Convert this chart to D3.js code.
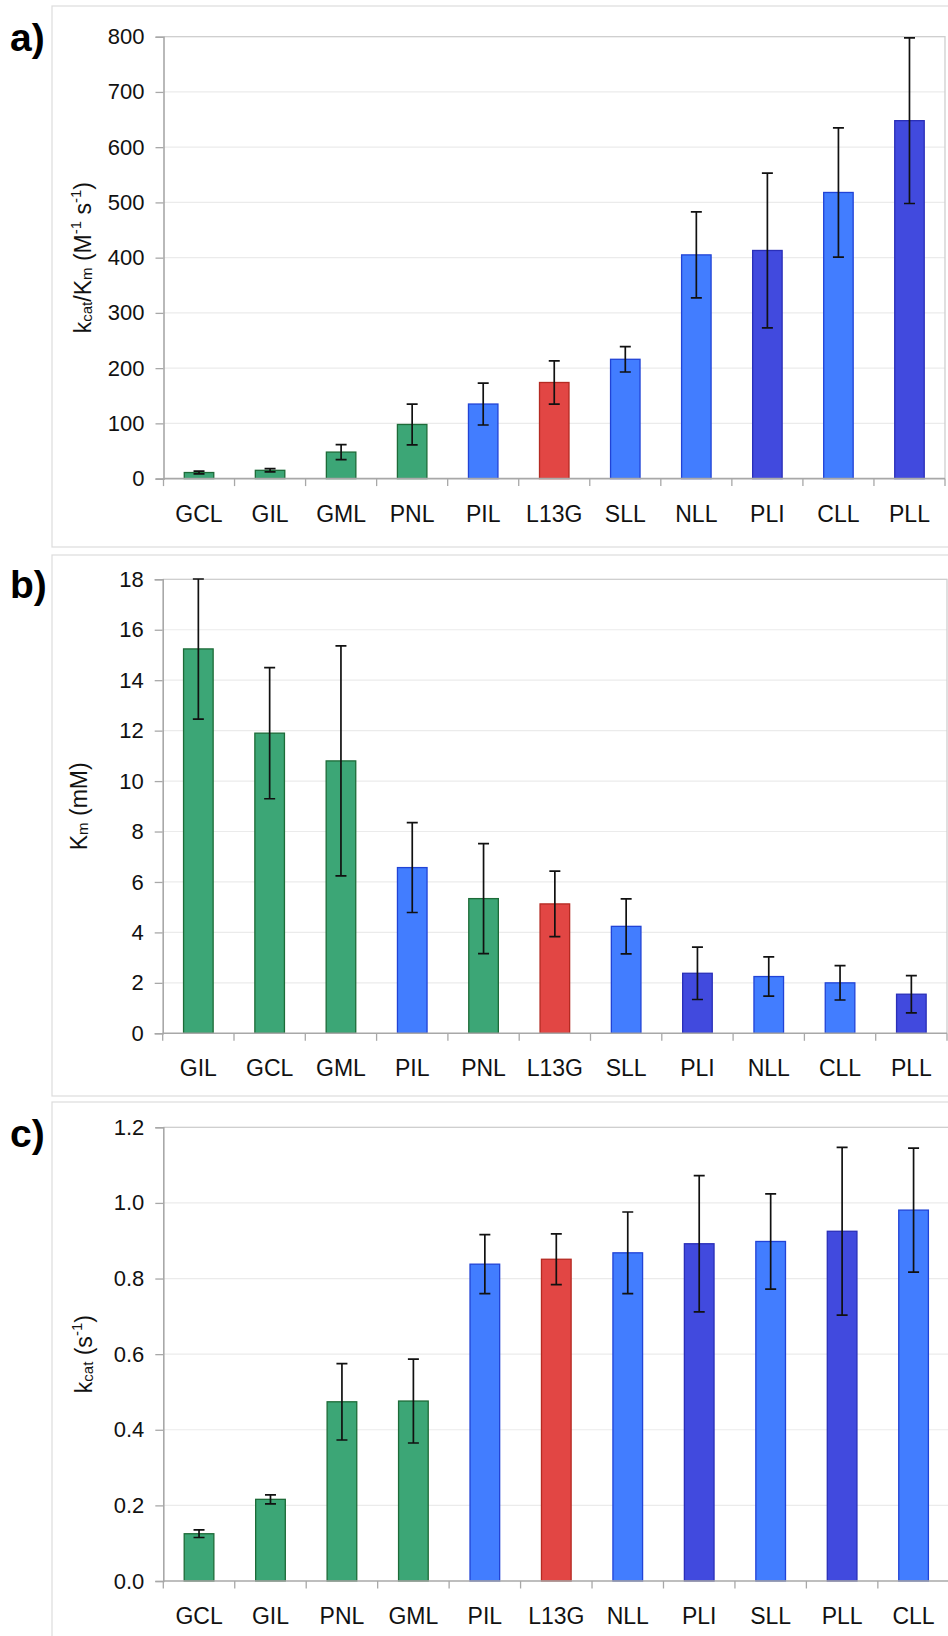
<!DOCTYPE html>
<html>
<head>
<meta charset="utf-8">
<script src="https://cdn.jsdelivr.net/npm/d3@7"></script>
<style>
  html, body { margin: 0; padding: 0; background: #fff; }
  svg { display: block; font-family: "Liberation Sans", Arial, sans-serif; }
</style>
</head>
<body>
<svg id="chart" width="948" height="1636"></svg>
<script>
// ---- Panel a: catalytic efficiency kcat/Km (M^-1 s^-1) ----
const effCategories = ["GCL", "GIL", "GML", "PNL", "PIL", "L13G", "SLL", "NLL", "PLI", "CLL", "PLL"];
const effValues     = [11, 15, 48, 98, 135, 174, 216, 405, 413, 518, 648];
const effErrors     = [2.5, 3, 13.5, 37, 38, 39, 23, 78, 140, 117, 150];
const effTicks      = [0, 100, 200, 300, 400, 500, 600, 700, 800];

// ---- Panel b: Michaelis constant Km (mM) ----
const kmCategories = ["GIL", "GCL", "GML", "PIL", "PNL", "L13G", "SLL", "PLI", "NLL", "CLL", "PLL"];
const kmValues     = [15.24, 11.9, 10.8, 6.57, 5.34, 5.13, 4.24, 2.38, 2.25, 2.0, 1.55];
const kmErrors     = [2.78, 2.6, 4.56, 1.78, 2.18, 1.3, 1.09, 1.04, 0.78, 0.68, 0.74];
const kmTicks      = [0, 2, 4, 6, 8, 10, 12, 14, 16, 18];

// ---- Panel c: turnover number kcat (s^-1) ----
const kcatCategories = ["GCL", "GIL", "PNL", "GML", "PIL", "L13G", "NLL", "PLI", "SLL", "PLL", "CLL"];
const kcatValues     = [0.125, 0.216, 0.474, 0.476, 0.838, 0.851, 0.868, 0.892, 0.898, 0.925, 0.981];
const kcatErrors     = [0.010, 0.012, 0.101, 0.111, 0.078, 0.067, 0.108, 0.180, 0.126, 0.222, 0.164];
const kcatTicks      = [0, 0.2, 0.4, 0.6, 0.8, 1.0, 1.2];

// Variant groups -> fill / outline colours
const groupOf = {
  GCL: "green", GIL: "green", GML: "green", PNL: "green",
  L13G: "red",
  PIL: "light", SLL: "light", NLL: "light", CLL: "light",
  PLI: "dark", PLL: "dark"
};
const fills   = { green: "#3ca676", red: "#e24644", light: "#427dff", dark: "#414ade" };
const strokes = { green: "#1d6b38", red: "#b52a22", light: "#2143d6", dark: "#2a2fb8" };

const svg = d3.select("#chart");
const TICK_FONT = 22;
const CAT_FONT = 23;

const panels = [
  { label: "a)", labelY: 51, frame: [6, 547], plot: { x0: 163.5, x1: 945, y0: 36.7, y1: 478.6 },
    cats: effCategories, vals: effValues, errs: effErrors, ticks: effTicks, max: 800,
    fmt: d3.format("d"), titleX: 83,
    title: [["k", 0], ["cat", -1], ["/K", 0], ["m", -1], [" (M", 0], ["-1", 1], [" s", 0], ["-1", 1], [")", 0]] },
  { label: "b)", labelY: 598, frame: [555, 1096], plot: { x0: 162.7, x1: 947, y0: 579.3, y1: 1033.3 },
    cats: kmCategories, vals: kmValues, errs: kmErrors, ticks: kmTicks, max: 18,
    fmt: d3.format("d"), titleX: 79,
    title: [["K", 0], ["m", -1], [" (mM)", 0]] },
  { label: "c)", labelY: 1147, frame: [1102, 1660], plot: { x0: 163.3, x1: 949.3, y0: 1127.3, y1: 1581 },
    cats: kcatCategories, vals: kcatValues, errs: kcatErrors, ticks: kcatTicks, max: 1.2,
    fmt: d3.format(".1f"), titleX: 84,
    title: [["k", 0], ["cat", -1], [" (s", 0], ["-1", 1], [")", 0]] }
];

panels.forEach(p => {
  const g = svg.append("g");
  const { x0, x1, y0, y1 } = p.plot;

  // panel frame
  g.append("rect")
    .attr("x", 52).attr("y", p.frame[0])
    .attr("width", 960).attr("height", p.frame[1] - p.frame[0])
    .attr("fill", "none").attr("stroke", "#dcdcdc").attr("stroke-width", 1.2);

  // panel letter
  g.append("text")
    .attr("x", 10).attr("y", p.labelY)
    .attr("font-size", 39).attr("font-weight", "bold").attr("fill", "#000")
    .text(p.label);

  const x = d3.scaleBand().domain(p.cats).range([x0, x1])
    .paddingInner(0.585).paddingOuter(0.2925);
  const y = d3.scaleLinear().domain([0, p.max]).range([y1, y0]);

  // gridlines
  g.append("g").selectAll("line").data(p.ticks.slice(1)).join("line")
    .attr("x1", x0).attr("x2", x1)
    .attr("y1", d => y(d)).attr("y2", d => y(d))
    .attr("stroke", "#ebebeb").attr("stroke-width", 1.2);

  // plot area top / right border
  g.append("path")
    .attr("d", `M${x0},${y0}H${x1}V${y1}`)
    .attr("fill", "none").attr("stroke", "#cfcfcf").attr("stroke-width", 1.3);

  // bars
  g.append("g").selectAll("rect").data(p.cats).join("rect")
    .attr("x", d => x(d))
    .attr("y", (d, i) => y(p.vals[i]))
    .attr("width", x.bandwidth())
    .attr("height", (d, i) => y(0) - y(p.vals[i]))
    .attr("fill", d => fills[groupOf[d]])
    .attr("stroke", d => strokes[groupOf[d]])
    .attr("stroke-width", 1.3);

  // error bars (clipped to the plot area)
  const clipId = "clip-" + p.label[0];
  g.append("clipPath").attr("id", clipId)
    .append("rect").attr("x", x0).attr("y", y0 - 1).attr("width", x1 - x0).attr("height", y1 - y0 + 1);
  const eg = g.append("g").attr("clip-path", `url(#${clipId})`)
    .attr("stroke", "#111").attr("stroke-width", 1.7).attr("fill", "none");
  p.cats.forEach((c, i) => {
    const cx = x(c) + x.bandwidth() / 2;
    const hi = y(p.vals[i] + p.errs[i]);
    const lo = y(p.vals[i] - p.errs[i]);
    eg.append("path")
      .attr("d", `M${cx},${hi}V${lo}M${cx - 5.5},${hi}H${cx + 5.5}M${cx - 5.5},${lo}H${cx + 5.5}`);
  });

  // y axis
  const yAxis = d3.axisLeft(y).tickValues(p.ticks).tickFormat(p.fmt).tickSize(8).tickPadding(11);
  const ya = g.append("g").attr("transform", `translate(${x0},0)`).call(yAxis);
  ya.select(".domain").attr("stroke", "#a8a8a8").attr("stroke-width", 1.6);
  ya.selectAll(".tick line").attr("stroke", "#a8a8a8").attr("stroke-width", 1.3);
  ya.selectAll(".tick text").attr("font-size", TICK_FONT).attr("fill", "#111")
    .attr("font-family", "Liberation Sans, Arial, sans-serif");

  // x axis: baseline, boundary ticks, category labels
  const step = x.step();
  g.append("line").attr("x1", x0).attr("x2", x1).attr("y1", y1).attr("y2", y1)
    .attr("stroke", "#a8a8a8").attr("stroke-width", 1.6);
  g.append("g").selectAll("line").data(d3.range(p.cats.length + 1)).join("line")
    .attr("x1", i => x0 + i * step).attr("x2", i => x0 + i * step)
    .attr("y1", y1).attr("y2", y1 + 7.5)
    .attr("stroke", "#a8a8a8").attr("stroke-width", 1.3);
  g.append("g").selectAll("text").data(p.cats).join("text")
    .attr("x", d => x(d) + x.bandwidth() / 2)
    .attr("y", y1 + 43)
    .attr("text-anchor", "middle")
    .attr("font-size", CAT_FONT).attr("fill", "#111")
    .text(d => d);

  // rotated y title with sub/superscripts
  const cy = (y0 + y1) / 2;
  const t = g.append("text")
    .attr("transform", `translate(${p.titleX},${cy}) rotate(-90)`)
    .attr("text-anchor", "middle")
    .attr("dominant-baseline", "central")
    .attr("font-size", 23).attr("fill", "#111");
  p.title.forEach(([s, pos]) => {
    const ts = t.append("tspan").text(s);
    if (pos === -1) ts.attr("font-size", 15).attr("baseline-shift", "-3");
    if (pos === 1) ts.attr("font-size", 15).attr("baseline-shift", "8");
  });
});
</script>
</body>
</html>
